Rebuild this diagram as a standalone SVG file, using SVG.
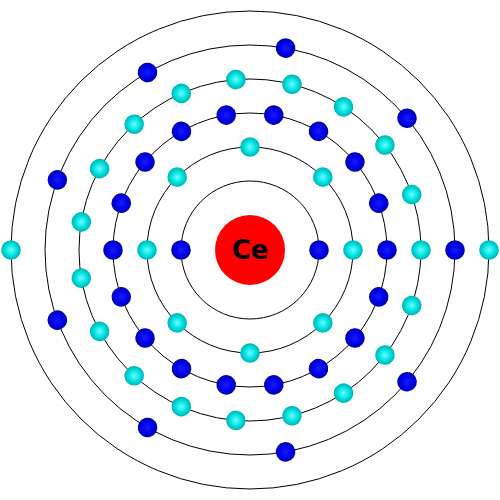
<svg xmlns="http://www.w3.org/2000/svg" width="500" height="500" viewBox="0 0 500 500">
<defs>
<radialGradient id="gb" cx="0.5" cy="0.5" r="0.5">
<stop offset="0" stop-color="#1a1aff"/>
<stop offset="0.6" stop-color="#0000e6"/>
<stop offset="1" stop-color="#0000b0"/>
</radialGradient>
<radialGradient id="gc" cx="0.5" cy="0.5" r="0.5">
<stop offset="0" stop-color="#66ffff"/>
<stop offset="0.6" stop-color="#00dede"/>
<stop offset="1" stop-color="#00b4b4"/>
</radialGradient>
<circle id="eb1" cx="319" cy="250" r="9.8" fill="url(#gb)"/>
<circle id="ec2" cx="353" cy="250" r="9.8" fill="url(#gc)"/>
<circle id="eb3" cx="387" cy="250" r="9.8" fill="url(#gb)"/>
<circle id="ec4" cx="421" cy="250" r="9.8" fill="url(#gc)"/>
<circle id="eb5" cx="455" cy="250" r="9.8" fill="url(#gb)"/>
<circle id="ec6" cx="489" cy="250" r="9.8" fill="url(#gc)"/>
</defs>
<style>
.shell{fill:none;stroke:#000;stroke-width:1}
.label{font-family:"DejaVu Sans",sans-serif;font-weight:bold;font-size:26px;fill:#000;text-anchor:middle}
</style>
<g id="connectors">
<circle class="shell" cx="250" cy="250" r="69"/>
<circle class="shell" cx="250" cy="250" r="103"/>
<circle class="shell" cx="250" cy="250" r="137"/>
<circle class="shell" cx="250" cy="250" r="171"/>
<circle class="shell" cx="250" cy="250" r="205"/>
<circle class="shell" cx="250" cy="250" r="239"/>
</g>
<g id="nucleus">
<circle cx="250" cy="250" r="35" fill="#ff0000"/>
<text class="label" x="250" y="259">Ce</text>
</g>
<g id="shell1">
<use href="#eb1"/>
<use href="#eb1" transform="rotate(180 250 250)"/>
</g>
<g id="shell2">
<use href="#ec2"/>
<use href="#ec2" transform="rotate(45 250 250)"/>
<use href="#ec2" transform="rotate(90 250 250)"/>
<use href="#ec2" transform="rotate(135 250 250)"/>
<use href="#ec2" transform="rotate(180 250 250)"/>
<use href="#ec2" transform="rotate(225 250 250)"/>
<use href="#ec2" transform="rotate(270 250 250)"/>
<use href="#ec2" transform="rotate(315 250 250)"/>
</g>
<g id="shell3">
<use href="#eb3"/>
<use href="#eb3" transform="rotate(20 250 250)"/>
<use href="#eb3" transform="rotate(40 250 250)"/>
<use href="#eb3" transform="rotate(60 250 250)"/>
<use href="#eb3" transform="rotate(80 250 250)"/>
<use href="#eb3" transform="rotate(100 250 250)"/>
<use href="#eb3" transform="rotate(120 250 250)"/>
<use href="#eb3" transform="rotate(140 250 250)"/>
<use href="#eb3" transform="rotate(160 250 250)"/>
<use href="#eb3" transform="rotate(180 250 250)"/>
<use href="#eb3" transform="rotate(200 250 250)"/>
<use href="#eb3" transform="rotate(220 250 250)"/>
<use href="#eb3" transform="rotate(240 250 250)"/>
<use href="#eb3" transform="rotate(260 250 250)"/>
<use href="#eb3" transform="rotate(280 250 250)"/>
<use href="#eb3" transform="rotate(300 250 250)"/>
<use href="#eb3" transform="rotate(320 250 250)"/>
<use href="#eb3" transform="rotate(340 250 250)"/>
</g>
<g id="shell4">
<use href="#ec4"/>
<use href="#ec4" transform="rotate(18.947 250 250)"/>
<use href="#ec4" transform="rotate(37.895 250 250)"/>
<use href="#ec4" transform="rotate(56.842 250 250)"/>
<use href="#ec4" transform="rotate(75.789 250 250)"/>
<use href="#ec4" transform="rotate(94.737 250 250)"/>
<use href="#ec4" transform="rotate(113.684 250 250)"/>
<use href="#ec4" transform="rotate(132.632 250 250)"/>
<use href="#ec4" transform="rotate(151.579 250 250)"/>
<use href="#ec4" transform="rotate(170.526 250 250)"/>
<use href="#ec4" transform="rotate(189.474 250 250)"/>
<use href="#ec4" transform="rotate(208.421 250 250)"/>
<use href="#ec4" transform="rotate(227.368 250 250)"/>
<use href="#ec4" transform="rotate(246.316 250 250)"/>
<use href="#ec4" transform="rotate(265.263 250 250)"/>
<use href="#ec4" transform="rotate(284.211 250 250)"/>
<use href="#ec4" transform="rotate(303.158 250 250)"/>
<use href="#ec4" transform="rotate(322.105 250 250)"/>
<use href="#ec4" transform="rotate(341.053 250 250)"/>
</g>
<g id="shell5">
<use href="#eb5"/>
<use href="#eb5" transform="rotate(40 250 250)"/>
<use href="#eb5" transform="rotate(80 250 250)"/>
<use href="#eb5" transform="rotate(120 250 250)"/>
<use href="#eb5" transform="rotate(160 250 250)"/>
<use href="#eb5" transform="rotate(200 250 250)"/>
<use href="#eb5" transform="rotate(240 250 250)"/>
<use href="#eb5" transform="rotate(280 250 250)"/>
<use href="#eb5" transform="rotate(320 250 250)"/>
</g>
<g id="shell6">
<use href="#ec6"/>
<use href="#ec6" transform="rotate(180 250 250)"/>
</g>
</svg>
